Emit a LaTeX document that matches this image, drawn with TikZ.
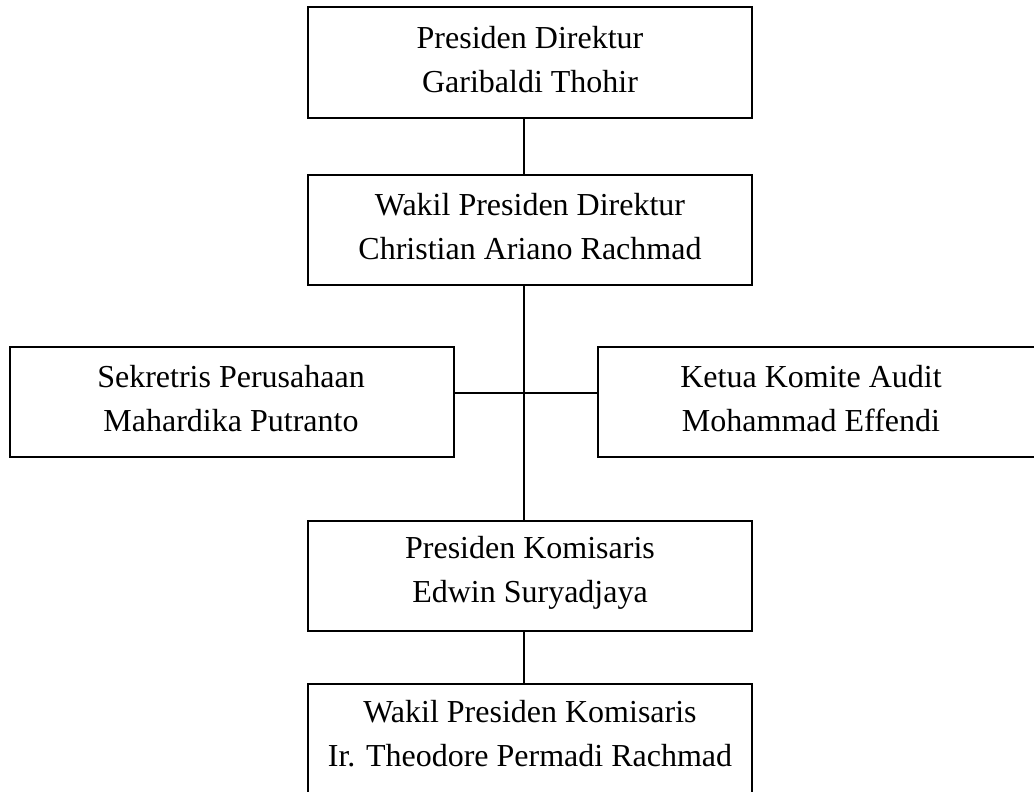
\documentclass[tikz,border=0pt]{standalone}
\usepackage{fontspec}
\setmainfont{Liberation Serif}
\begin{document}
\begin{tikzpicture}[x=1pt,y=-1pt,
  orgbox/.style={draw=black, line width=2pt, rectangle, minimum width=444pt, minimum height=110pt, inner sep=0pt},
  orgtext/.style={align=center, font=\fontsize{32}{44}\selectfont, inner sep=0pt, yshift=3pt},
  link/.style={draw=black, line width=2pt}]
  \useasboundingbox (0,0) rectangle (1034,792);
  \clip (0,0) rectangle (1034,792);

  % main column boxes
  \node[orgbox] (pd) at (530,62.5) {};
  \node[orgtext] (pdt) at (pd.center) {Presiden Direktur\\Garibaldi Thohir};
  \node[orgbox] (wpd) at (530,230) {};
  \node[orgtext] (wpdt) at (wpd.center) {Wakil Presiden Direktur\\Christian Ariano Rachmad};
  \node[orgbox] (pk) at (530,575.5) {};
  \node[orgtext] (pkt) at (pk.center) {Presiden Komisaris\\Edwin Suryadjaya};
  \node[orgbox] (wpk) at (530,739) {};
  \node[orgtext] (wpkt) at (530,737) {Wakil Presiden Komisaris\\Ir. Theodore Permadi Rachmad};

  % side boxes
  \node[orgbox] (sek) at (232,402) {};
  \node[orgtext] (sekt) at (231,402) {Sekretris Perusahaan\\Mahardika Putranto};
  \node[orgbox] (aud) at (820,402) {};
  \node[orgtext] (audt) at (811,402) {Ketua Komite Audit\\Mohammad Effendi};

  % connectors
  \coordinate (spine) at (524,0);
  \coordinate (hy) at (0,393);
  \draw[link] (pd.south -| spine) -- (wpd.north -| spine);
  \draw[link] (wpd.south -| spine) -- (pk.north -| spine);
  \draw[link] (pk.south -| spine) -- (wpk.north -| spine);
  \draw[link] (sek.east |- hy) -- (aud.west |- hy);
\end{tikzpicture}
\end{document}
